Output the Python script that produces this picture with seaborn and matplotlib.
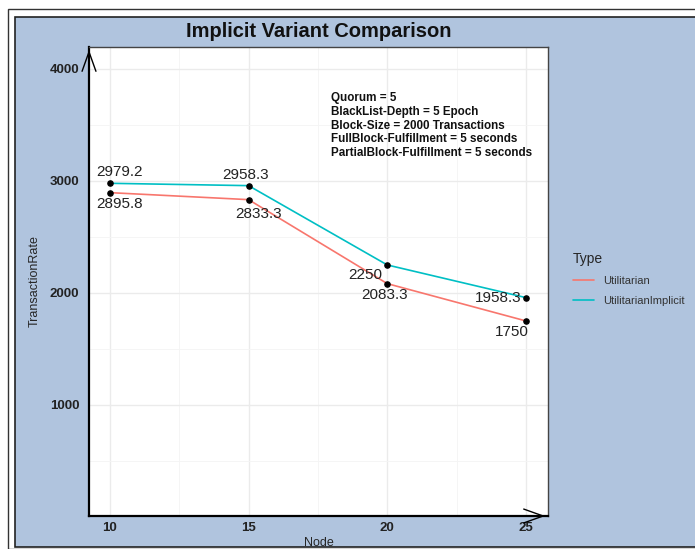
import matplotlib
matplotlib.use("Agg")
import matplotlib.pyplot as plt
from matplotlib.patches import Rectangle
import seaborn as sns
import pandas as pd

nodes = [10, 15, 20, 25]
utilitarian = [2895.8, 2833.3, 2083.3, 1750]
utilitarian_implicit = [2979.2, 2958.3, 2250, 1958.3]
types = ["Utilitarian", "UtilitarianImplicit"]
x_ticks = [10, 15, 20, 25]
y_ticks = [1000, 2000, 3000, 4000]
notes = ["Quorum = 5", "BlackList-Depth = 5 Epoch", "Block-Size = 2000 Transactions",
         "FullBlock-Fulfillment = 5 seconds", "PartialBlock-Fulfillment = 5 seconds"]

df = pd.DataFrame({
    "Node": nodes * 2,
    "TransactionRate": utilitarian + utilitarian_implicit,
    "Type": [types[0]] * 4 + [types[1]] * 4,
})

sns.set_style("white")
plt.rcParams["font.family"] = ["Liberation Sans", "DejaVu Sans"]

W, H = 695, 549
fig = plt.figure(figsize=(W / 100, H / 100), dpi=100)
fig.patch.set_facecolor("white")
# outer frame and blue background
fig.patches.append(Rectangle((8 / W, 0), 1, 1 - 9 / H, transform=fig.transFigure,
                             facecolor="white", edgecolor="#333333", lw=1.0, zorder=-3))
fig.patches.append(Rectangle((15 / W, 2 / H), 1, 1 - 19 / H, transform=fig.transFigure,
                             facecolor="#b0c4de", edgecolor="#222222", lw=1.2, zorder=-2))

ax = fig.add_axes([89 / W, 1 - 516 / H, (548 - 89) / W, (516 - 47) / H])
palette = {types[0]: "#F8766D", types[1]: "#00BFC4"}
sns.lineplot(data=df, x="Node", y="TransactionRate", hue="Type", palette=palette,
             ax=ax, lw=1.2, legend=True)
ax.scatter(df["Node"], df["TransactionRate"], color="black", s=14, zorder=5)

ax.set_xlim(9.25, 25.79)
ax.set_ylim(9, 4196)
ax.set_xticks(x_ticks)
ax.set_yticks(y_ticks)
ax.set_xticks([12.5, 17.5, 22.5], minor=True)
ax.set_yticks([500, 1500, 2500, 3500], minor=True)
ax.grid(True, which="major", color="#ebebeb", lw=1.0)
ax.grid(True, which="minor", color="#f4f4f4", lw=0.6)
ax.set_axisbelow(True)
for s in ["top", "right"]:
    ax.spines[s].set_color("#444444")
    ax.spines[s].set_linewidth(1.0)
for s in ["left", "bottom"]:
    ax.spines[s].set_color("black")
    ax.spines[s].set_linewidth(1.6)
ax.tick_params(axis="y", which="both", length=0, labelsize=9.5, pad=7)
ax.tick_params(axis="x", which="both", length=0, labelsize=9.5, pad=4)
for lab in ax.get_xticklabels() + ax.get_yticklabels():
    lab.set_fontweight("bold")
    lab.set_color("#222222")

# arrowheads
ax.annotate("", xy=(0, 1), xytext=(0, 0.96), xycoords="axes fraction",
            arrowprops=dict(arrowstyle="->,head_length=1.4,head_width=0.5", lw=1.0, color="black"),
            annotation_clip=False)
ax.annotate("", xy=(1, 0), xytext=(0.96, 0), xycoords="axes fraction",
            arrowprops=dict(arrowstyle="->,head_length=1.4,head_width=0.5", lw=1.0, color="black"),
            annotation_clip=False)

ax.set_xlabel("Node", fontsize=9)
ax.set_ylabel("TransactionRate", fontsize=9)
ax.xaxis.set_label_coords(0.5, -0.044)
ax.yaxis.set_label_coords(-0.105, 0.5)
ax.set_title("Implicit Variant Comparison", fontsize=14.5, fontweight="bold", pad=7,
             color="#111111")

# data labels
offsets_u = [(7, -8), (7, -10), (-2, -8), (-10, -8)]
offsets_i = [(7, 8), (-2, 8), (-16, -7), (-20, 0)]
for xv, yv, off in zip(nodes, utilitarian, offsets_u):
    ax.annotate(f"{yv:g}", (xv, yv), xytext=off, textcoords="offset points",
                ha="center", va="center", fontsize=11, color="#222222")
for xv, yv, off in zip(nodes, utilitarian_implicit, offsets_i):
    ax.annotate(f"{yv:g}", (xv, yv), xytext=off, textcoords="offset points",
                ha="center", va="center", fontsize=11, color="#222222")

ax.text(0.527, 0.905, "\n".join(notes), transform=ax.transAxes, ha="left", va="top",
        fontsize=8.4, fontweight="bold", linespacing=1.22, color="#111111")

leg = ax.legend(title="Type", loc="center left", bbox_to_anchor=(1.033, 0.505),
                frameon=False, fontsize=8, title_fontsize=10, handlelength=1.9,
                labelspacing=0.9, alignment="left")
for t in leg.get_texts():
    t.set_color("#333333")

fig.savefig("out.png", dpi=100)
